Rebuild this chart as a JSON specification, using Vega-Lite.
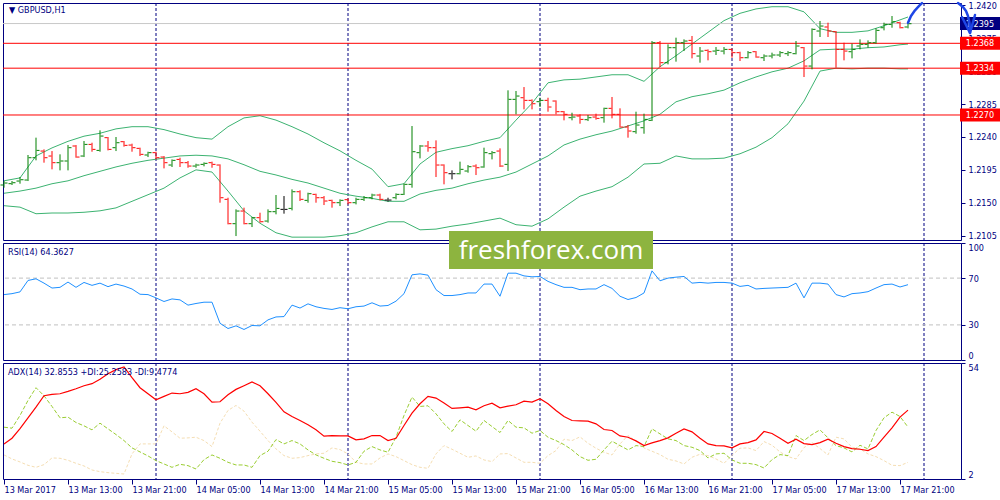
{
"$schema": "https://vega.github.io/schema/vega-lite/v6.json",
"padding": {"left": 0, "top": 0, "right": 0, "bottom": 0},
"background": "white",
"bounds": "flush",
"spacing": 3,
"config": {
  "view": {"stroke": "#000080", "strokeWidth": 1},
  "font": "DejaVu Sans Condensed, DejaVu Sans",
  "axis": {"labelFont": "DejaVu Sans Condensed, DejaVu Sans", "labelFontSize": 9, "labelColor": "#000080", "tickColor": "#000080", "tickSize": 4, "domain": false, "grid": false, "labelPadding": 3},
  "title": {"font": "DejaVu Sans Condensed, DejaVu Sans", "fontSize": 9, "fontWeight": "normal", "color": "#000080", "anchor": "start", "baseline": "middle", "frame": "group"}
},
"datasets": {
  "bars": [
    {"t":"2017-03-13T05:00Z","o":1.21743,"h":1.21797,"l":1.21706,"c":1.2177,"rsi":55.9,"adx":17.73,"pdi":25.23,"mdi":12.79},
    {"t":"2017-03-13T06:00Z","o":1.21761,"h":1.21797,"l":1.21743,"c":1.21774,"rsi":56.7,"adx":20.28,"pdi":24.78,"mdi":10.99},
    {"t":"2017-03-13T07:00Z","o":1.21797,"h":1.21852,"l":1.21761,"c":1.21815,"rsi":58.2,"adx":24.63,"pdi":30.48,"mdi":9.64},
    {"t":"2017-03-13T08:00Z","o":1.21811,"h":1.22153,"l":1.21797,"c":1.22116,"rsi":68.0,"adx":29.43,"pdi":37.22,"mdi":8.14},
    {"t":"2017-03-13T09:00Z","o":1.22116,"h":1.2239,"l":1.2208,"c":1.22216,"rsi":69.4,"adx":34.22,"pdi":42.92,"mdi":7.24},
    {"t":"2017-03-13T10:00Z","o":1.22207,"h":1.2223,"l":1.22048,"c":1.22116,"rsi":65.7,"adx":39.32,"pdi":39.32,"mdi":8.44},
    {"t":"2017-03-13T11:00Z","o":1.22139,"h":1.22207,"l":1.21957,"c":1.22048,"rsi":61.5,"adx":39.92,"pdi":34.52,"mdi":11.44},
    {"t":"2017-03-13T12:00Z","o":1.22048,"h":1.22162,"l":1.21943,"c":1.22071,"rsi":62.1,"adx":40.22,"pdi":29.43,"mdi":11.29},
    {"t":"2017-03-13T13:00Z","o":1.22071,"h":1.22289,"l":1.21943,"c":1.22253,"rsi":66.6,"adx":41.27,"pdi":29.73,"mdi":10.39},
    {"t":"2017-03-13T14:00Z","o":1.22276,"h":1.22289,"l":1.22116,"c":1.22125,"rsi":62.1,"adx":42.47,"pdi":27.33,"mdi":9.04},
    {"t":"2017-03-13T15:00Z","o":1.22139,"h":1.22344,"l":1.22125,"c":1.22298,"rsi":66.3,"adx":43.82,"pdi":25.83,"mdi":7.84},
    {"t":"2017-03-13T16:00Z","o":1.22298,"h":1.22321,"l":1.22198,"c":1.2223,"rsi":63.8,"adx":44.72,"pdi":24.03,"mdi":6.04},
    {"t":"2017-03-13T17:00Z","o":1.22216,"h":1.2249,"l":1.22198,"c":1.22412,"rsi":65.7,"adx":46.67,"pdi":27.03,"mdi":5.29},
    {"t":"2017-03-13T18:00Z","o":1.2239,"h":1.22399,"l":1.22216,"c":1.2223,"rsi":62.7,"adx":49.21,"pdi":24.48,"mdi":4.84},
    {"t":"2017-03-13T19:00Z","o":1.22253,"h":1.22399,"l":1.22207,"c":1.22321,"rsi":64.9,"adx":51.01,"pdi":21.93,"mdi":4.54},
    {"t":"2017-03-13T20:00Z","o":1.22335,"h":1.22344,"l":1.22267,"c":1.22285,"rsi":63.2,"adx":52.21,"pdi":19.23,"mdi":4.24},
    {"t":"2017-03-13T21:00Z","o":1.22289,"h":1.22308,"l":1.22198,"c":1.22253,"rsi":60.7,"adx":47.41,"pdi":15.94,"mdi":13.24},
    {"t":"2017-03-13T22:00Z","o":1.22244,"h":1.22253,"l":1.22139,"c":1.22162,"rsi":56.2,"adx":42.92,"pdi":14.14,"mdi":17.73},
    {"t":"2017-03-13T23:00Z","o":1.22153,"h":1.22198,"l":1.22125,"c":1.22185,"rsi":55.9,"adx":40.22,"pdi":12.34,"mdi":17.73},
    {"t":"2017-03-14T00:00Z","o":1.22185,"h":1.22198,"l":1.22093,"c":1.22116,"rsi":53.1,"adx":37.52,"pdi":10.24,"mdi":17.73},
    {"t":"2017-03-14T01:00Z","o":1.22125,"h":1.22139,"l":1.2197,"c":1.22048,"rsi":50.0,"adx":39.02,"pdi":8.74,"mdi":25.83},
    {"t":"2017-03-14T02:00Z","o":1.22016,"h":1.22093,"l":1.21989,"c":1.2208,"rsi":52.2,"adx":40.52,"pdi":7.24,"mdi":23.13},
    {"t":"2017-03-14T03:00Z","o":1.22093,"h":1.22116,"l":1.21989,"c":1.22048,"rsi":51.4,"adx":40.22,"pdi":8.59,"mdi":20.28},
    {"t":"2017-03-14T04:00Z","o":1.22048,"h":1.22071,"l":1.21979,"c":1.22002,"rsi":46.9,"adx":40.82,"pdi":7.99,"mdi":20.43},
    {"t":"2017-03-14T05:00Z","o":1.22002,"h":1.22034,"l":1.21979,"c":1.22016,"rsi":48.3,"adx":42.47,"pdi":6.49,"mdi":20.73},
    {"t":"2017-03-14T06:00Z","o":1.22025,"h":1.22052,"l":1.21998,"c":1.22039,"rsi":49.4,"adx":40.22,"pdi":10.69,"mdi":19.23},
    {"t":"2017-03-14T07:00Z","o":1.22048,"h":1.22062,"l":1.21979,"c":1.22025,"rsi":49.4,"adx":36.47,"pdi":12.79,"mdi":16.53},
    {"t":"2017-03-14T08:00Z","o":1.22016,"h":1.22025,"l":1.21501,"c":1.21569,"rsi":31.4,"adx":36.62,"pdi":11.29,"mdi":27.03},
    {"t":"2017-03-14T09:00Z","o":1.21547,"h":1.21569,"l":1.21205,"c":1.21214,"rsi":26.9,"adx":39.77,"pdi":9.49,"mdi":32.73},
    {"t":"2017-03-14T10:00Z","o":1.21214,"h":1.2141,"l":1.21045,"c":1.21387,"rsi":29.2,"adx":42.17,"pdi":8.29,"mdi":34.97},
    {"t":"2017-03-14T11:00Z","o":1.21387,"h":1.21433,"l":1.21205,"c":1.21214,"rsi":26.1,"adx":43.82,"pdi":8.29,"mdi":32.42},
    {"t":"2017-03-14T12:00Z","o":1.21214,"h":1.21305,"l":1.21168,"c":1.21296,"rsi":29.5,"adx":45.47,"pdi":7.24,"mdi":27.48},
    {"t":"2017-03-14T13:00Z","o":1.21296,"h":1.21364,"l":1.21228,"c":1.21241,"rsi":29.2,"adx":43.82,"pdi":12.49,"mdi":23.43},
    {"t":"2017-03-14T14:00Z","o":1.2125,"h":1.2141,"l":1.21228,"c":1.21378,"rsi":34.3,"adx":40.22,"pdi":14.44,"mdi":19.23},
    {"t":"2017-03-14T15:00Z","o":1.21378,"h":1.21606,"l":1.21342,"c":1.21423,"rsi":36.8,"adx":36.32,"pdi":19.68,"mdi":15.49},
    {"t":"2017-03-14T16:00Z","o":1.2141,"h":1.21592,"l":1.21351,"c":1.2141,"rsi":37.1,"adx":32.12,"pdi":17.73,"mdi":12.49},
    {"t":"2017-03-14T17:00Z","o":1.21423,"h":1.21683,"l":1.21396,"c":1.21651,"rsi":46.9,"adx":30.03,"pdi":19.23,"mdi":11.29},
    {"t":"2017-03-14T18:00Z","o":1.21651,"h":1.2167,"l":1.21524,"c":1.21547,"rsi":44.4,"adx":28.23,"pdi":17.73,"mdi":11.59},
    {"t":"2017-03-14T19:00Z","o":1.21533,"h":1.21638,"l":1.21501,"c":1.21624,"rsi":48.0,"adx":26.28,"pdi":15.04,"mdi":12.49},
    {"t":"2017-03-14T20:00Z","o":1.21615,"h":1.21624,"l":1.21501,"c":1.21569,"rsi":45.5,"adx":24.03,"pdi":12.79,"mdi":13.24},
    {"t":"2017-03-14T21:00Z","o":1.21569,"h":1.21592,"l":1.21469,"c":1.21524,"rsi":44.1,"adx":21.18,"pdi":11.29,"mdi":13.54},
    {"t":"2017-03-14T22:00Z","o":1.21533,"h":1.21542,"l":1.21433,"c":1.21501,"rsi":43.2,"adx":21.48,"pdi":9.94,"mdi":15.94},
    {"t":"2017-03-14T23:00Z","o":1.21501,"h":1.21547,"l":1.21455,"c":1.21533,"rsi":44.7,"adx":21.33,"pdi":9.34,"mdi":15.19},
    {"t":"2017-03-15T00:00Z","o":1.21542,"h":1.2156,"l":1.21478,"c":1.21501,"rsi":43.8,"adx":21.33,"pdi":8.29,"mdi":13.24},
    {"t":"2017-03-15T01:00Z","o":1.21501,"h":1.21569,"l":1.21478,"c":1.21547,"rsi":45.5,"adx":19.53,"pdi":9.49,"mdi":9.49},
    {"t":"2017-03-15T02:00Z","o":1.21547,"h":1.21592,"l":1.21524,"c":1.21569,"rsi":46.1,"adx":19.98,"pdi":14.44,"mdi":8.74},
    {"t":"2017-03-15T03:00Z","o":1.21569,"h":1.21624,"l":1.21547,"c":1.21606,"rsi":48.9,"adx":21.48,"pdi":16.53,"mdi":8.74},
    {"t":"2017-03-15T04:00Z","o":1.21606,"h":1.21624,"l":1.21533,"c":1.21547,"rsi":46.1,"adx":21.48,"pdi":15.04,"mdi":11.44},
    {"t":"2017-03-15T05:00Z","o":1.21537,"h":1.21569,"l":1.21515,"c":1.21537,"rsi":46.6,"adx":19.23,"pdi":13.99,"mdi":13.24},
    {"t":"2017-03-15T06:00Z","o":1.21569,"h":1.21629,"l":1.21547,"c":1.21615,"rsi":50.3,"adx":20.28,"pdi":20.73,"mdi":12.04},
    {"t":"2017-03-15T07:00Z","o":1.21615,"h":1.21761,"l":1.21606,"c":1.21752,"rsi":56.7,"adx":25.98,"pdi":30.48,"mdi":10.24},
    {"t":"2017-03-15T08:00Z","o":1.21752,"h":1.22549,"l":1.21706,"c":1.22198,"rsi":72.8,"adx":31.53,"pdi":38.72,"mdi":8.44},
    {"t":"2017-03-15T09:00Z","o":1.22185,"h":1.22289,"l":1.22107,"c":1.22276,"rsi":73.6,"adx":35.72,"pdi":34.52,"mdi":7.24},
    {"t":"2017-03-15T10:00Z","o":1.22276,"h":1.22344,"l":1.22198,"c":1.22253,"rsi":72.5,"adx":39.02,"pdi":34.82,"mdi":6.79},
    {"t":"2017-03-15T11:00Z","o":1.22253,"h":1.22353,"l":1.21852,"c":1.22016,"rsi":60.1,"adx":38.27,"pdi":31.23,"mdi":13.24},
    {"t":"2017-03-15T12:00Z","o":1.22016,"h":1.22025,"l":1.21752,"c":1.21911,"rsi":55.1,"adx":36.02,"pdi":26.73,"mdi":16.98},
    {"t":"2017-03-15T13:00Z","o":1.21897,"h":1.21943,"l":1.2182,"c":1.21897,"rsi":55.1,"adx":33.62,"pdi":23.28,"mdi":15.34},
    {"t":"2017-03-15T14:00Z","o":1.21897,"h":1.22062,"l":1.21888,"c":1.21957,"rsi":55.9,"adx":33.92,"pdi":28.53,"mdi":13.54},
    {"t":"2017-03-15T15:00Z","o":1.21934,"h":1.22016,"l":1.21911,"c":1.21993,"rsi":57.3,"adx":34.22,"pdi":25.98,"mdi":11.74},
    {"t":"2017-03-15T16:00Z","o":1.22002,"h":1.22025,"l":1.21879,"c":1.21979,"rsi":57.3,"adx":33.02,"pdi":23.43,"mdi":12.34},
    {"t":"2017-03-15T17:00Z","o":1.21989,"h":1.22253,"l":1.21979,"c":1.22185,"rsi":64.9,"adx":34.82,"pdi":28.23,"mdi":10.54},
    {"t":"2017-03-15T18:00Z","o":1.22171,"h":1.22207,"l":1.22093,"c":1.22185,"rsi":64.9,"adx":36.02,"pdi":25.53,"mdi":9.79},
    {"t":"2017-03-15T19:00Z","o":1.22207,"h":1.22244,"l":1.21989,"c":1.22002,"rsi":54.5,"adx":33.92,"pdi":22.83,"mdi":13.24},
    {"t":"2017-03-15T20:00Z","o":1.22025,"h":1.23037,"l":1.21934,"c":1.22914,"rsi":74.2,"adx":34.67,"pdi":28.23,"mdi":13.39},
    {"t":"2017-03-15T21:00Z","o":1.22914,"h":1.23028,"l":1.22709,"c":1.22959,"rsi":74.2,"adx":35.27,"pdi":25.23,"mdi":11.44},
    {"t":"2017-03-15T22:00Z","o":1.22936,"h":1.23082,"l":1.22777,"c":1.229,"rsi":71.9,"adx":36.92,"pdi":24.93,"mdi":9.49},
    {"t":"2017-03-15T23:00Z","o":1.229,"h":1.22914,"l":1.22777,"c":1.22854,"rsi":71.1,"adx":36.47,"pdi":22.53,"mdi":9.49},
    {"t":"2017-03-16T00:00Z","o":1.22882,"h":1.22936,"l":1.22809,"c":1.229,"rsi":71.4,"adx":37.97,"pdi":23.73,"mdi":9.04},
    {"t":"2017-03-16T01:00Z","o":1.229,"h":1.22936,"l":1.22745,"c":1.22809,"rsi":67.2,"adx":35.72,"pdi":20.73,"mdi":12.49},
    {"t":"2017-03-16T02:00Z","o":1.22891,"h":1.229,"l":1.22709,"c":1.22745,"rsi":64.4,"adx":32.73,"pdi":19.23,"mdi":14.74},
    {"t":"2017-03-16T03:00Z","o":1.22745,"h":1.22754,"l":1.22627,"c":1.22709,"rsi":62.1,"adx":30.03,"pdi":17.43,"mdi":19.83},
    {"t":"2017-03-16T04:00Z","o":1.22663,"h":1.22731,"l":1.22627,"c":1.22672,"rsi":62.1,"adx":28.23,"pdi":15.04,"mdi":19.23},
    {"t":"2017-03-16T05:00Z","o":1.22686,"h":1.22709,"l":1.22581,"c":1.2264,"rsi":60.1,"adx":28.08,"pdi":12.04,"mdi":20.88},
    {"t":"2017-03-16T06:00Z","o":1.22636,"h":1.227,"l":1.22617,"c":1.22663,"rsi":60.7,"adx":27.93,"pdi":10.39,"mdi":18.03},
    {"t":"2017-03-16T07:00Z","o":1.22672,"h":1.22718,"l":1.22636,"c":1.22654,"rsi":60.7,"adx":26.73,"pdi":10.84,"mdi":15.79},
    {"t":"2017-03-16T08:00Z","o":1.22663,"h":1.228,"l":1.22595,"c":1.22791,"rsi":64.4,"adx":24.18,"pdi":15.04,"mdi":13.99},
    {"t":"2017-03-16T09:00Z","o":1.22791,"h":1.22946,"l":1.22654,"c":1.22709,"rsi":61.2,"adx":23.73,"pdi":18.93,"mdi":12.79},
    {"t":"2017-03-16T10:00Z","o":1.22709,"h":1.22791,"l":1.22526,"c":1.22535,"rsi":54.5,"adx":21.33,"pdi":16.98,"mdi":17.73},
    {"t":"2017-03-16T11:00Z","o":1.22535,"h":1.22563,"l":1.2239,"c":1.22481,"rsi":51.7,"adx":20.73,"pdi":15.04,"mdi":21.48},
    {"t":"2017-03-16T12:00Z","o":1.22472,"h":1.22745,"l":1.22444,"c":1.22563,"rsi":53.4,"adx":19.08,"pdi":16.98,"mdi":18.93},
    {"t":"2017-03-16T13:00Z","o":1.22526,"h":1.22718,"l":1.22444,"c":1.2264,"rsi":57.3,"adx":16.98,"pdi":16.53,"mdi":15.94},
    {"t":"2017-03-16T14:00Z","o":1.22627,"h":1.23711,"l":1.22617,"c":1.23688,"rsi":76.2,"adx":18.18,"pdi":24.48,"mdi":14.44},
    {"t":"2017-03-16T15:00Z","o":1.23688,"h":1.23711,"l":1.23356,"c":1.23415,"rsi":67.7,"adx":19.23,"pdi":22.23,"mdi":12.94},
    {"t":"2017-03-16T16:00Z","o":1.23415,"h":1.23666,"l":1.23392,"c":1.2362,"rsi":70.0,"adx":20.43,"pdi":19.98,"mdi":10.84},
    {"t":"2017-03-16T17:00Z","o":1.2362,"h":1.23757,"l":1.23429,"c":1.23688,"rsi":70.8,"adx":22.53,"pdi":19.23,"mdi":10.09},
    {"t":"2017-03-16T18:00Z","o":1.23688,"h":1.23734,"l":1.23574,"c":1.23711,"rsi":71.4,"adx":24.48,"pdi":16.98,"mdi":8.74},
    {"t":"2017-03-16T19:00Z","o":1.2372,"h":1.2378,"l":1.23474,"c":1.23538,"rsi":65.7,"adx":23.13,"pdi":16.23,"mdi":11.74},
    {"t":"2017-03-16T20:00Z","o":1.23506,"h":1.23629,"l":1.23415,"c":1.23574,"rsi":66.3,"adx":20.28,"pdi":14.74,"mdi":13.09},
    {"t":"2017-03-16T21:00Z","o":1.23584,"h":1.23597,"l":1.23447,"c":1.23565,"rsi":65.7,"adx":17.73,"pdi":11.44,"mdi":12.49},
    {"t":"2017-03-16T22:00Z","o":1.23574,"h":1.23629,"l":1.2352,"c":1.23584,"rsi":66.3,"adx":16.98,"pdi":13.24,"mdi":10.99},
    {"t":"2017-03-16T23:00Z","o":1.23574,"h":1.23629,"l":1.23529,"c":1.23597,"rsi":66.3,"adx":16.83,"pdi":13.54,"mdi":9.04},
    {"t":"2017-03-17T00:00Z","o":1.23597,"h":1.23611,"l":1.23483,"c":1.23552,"rsi":65.7,"adx":15.94,"pdi":10.54,"mdi":12.64},
    {"t":"2017-03-17T01:00Z","o":1.23552,"h":1.23565,"l":1.23438,"c":1.23483,"rsi":62.9,"adx":17.73,"pdi":9.04,"mdi":15.79},
    {"t":"2017-03-17T02:00Z","o":1.23483,"h":1.23574,"l":1.23474,"c":1.23552,"rsi":63.8,"adx":18.33,"pdi":9.04,"mdi":15.94},
    {"t":"2017-03-17T03:00Z","o":1.23565,"h":1.23574,"l":1.23483,"c":1.23492,"rsi":60.7,"adx":19.53,"pdi":8.44,"mdi":14.74},
    {"t":"2017-03-17T04:00Z","o":1.23483,"h":1.23529,"l":1.23438,"c":1.23506,"rsi":61.2,"adx":23.28,"pdi":6.94,"mdi":18.78},
    {"t":"2017-03-17T05:00Z","o":1.23506,"h":1.23552,"l":1.23474,"c":1.2352,"rsi":61.5,"adx":22.38,"pdi":10.69,"mdi":17.13},
    {"t":"2017-03-17T06:00Z","o":1.2352,"h":1.23574,"l":1.23492,"c":1.23552,"rsi":61.8,"adx":20.28,"pdi":12.94,"mdi":14.14},
    {"t":"2017-03-17T07:00Z","o":1.23538,"h":1.23574,"l":1.23506,"c":1.23552,"rsi":62.1,"adx":18.03,"pdi":12.49,"mdi":12.04},
    {"t":"2017-03-17T08:00Z","o":1.23538,"h":1.23711,"l":1.23529,"c":1.23643,"rsi":65.7,"adx":19.83,"pdi":21.48,"mdi":10.99},
    {"t":"2017-03-17T09:00Z","o":1.2362,"h":1.23629,"l":1.23219,"c":1.23369,"rsi":53.1,"adx":17.88,"pdi":19.23,"mdi":16.09},
    {"t":"2017-03-17T10:00Z","o":1.23369,"h":1.23884,"l":1.23324,"c":1.23871,"rsi":65.7,"adx":17.43,"pdi":21.93,"mdi":18.33},
    {"t":"2017-03-17T11:00Z","o":1.23848,"h":1.23985,"l":1.23766,"c":1.23916,"rsi":65.7,"adx":18.33,"pdi":24.03,"mdi":15.64},
    {"t":"2017-03-17T12:00Z","o":1.23903,"h":1.23962,"l":1.23766,"c":1.23848,"rsi":64.9,"adx":19.83,"pdi":20.43,"mdi":12.79},
    {"t":"2017-03-17T13:00Z","o":1.23839,"h":1.23848,"l":1.23347,"c":1.23597,"rsi":55.9,"adx":18.03,"pdi":16.98,"mdi":20.73},
    {"t":"2017-03-17T14:00Z","o":1.23597,"h":1.23688,"l":1.23447,"c":1.23574,"rsi":53.9,"adx":16.53,"pdi":15.94,"mdi":19.98},
    {"t":"2017-03-17T15:00Z","o":1.23565,"h":1.23675,"l":1.23474,"c":1.23597,"rsi":56.7,"adx":15.64,"pdi":14.14,"mdi":16.23},
    {"t":"2017-03-17T16:00Z","o":1.23643,"h":1.23734,"l":1.23597,"c":1.23666,"rsi":57.3,"adx":15.34,"pdi":17.13,"mdi":15.49},
    {"t":"2017-03-17T17:00Z","o":1.23666,"h":1.2372,"l":1.2362,"c":1.23688,"rsi":58.4,"adx":14.74,"pdi":15.49,"mdi":13.24},
    {"t":"2017-03-17T18:00Z","o":1.23688,"h":1.23884,"l":1.23675,"c":1.23857,"rsi":61.5,"adx":16.53,"pdi":23.73,"mdi":12.04},
    {"t":"2017-03-17T19:00Z","o":1.23893,"h":1.23962,"l":1.23857,"c":1.23939,"rsi":64.4,"adx":20.73,"pdi":29.43,"mdi":10.24},
    {"t":"2017-03-17T20:00Z","o":1.23939,"h":1.24053,"l":1.23893,"c":1.23975,"rsi":64.9,"adx":24.93,"pdi":31.97,"mdi":8.14},
    {"t":"2017-03-17T21:00Z","o":1.23962,"h":1.23975,"l":1.23884,"c":1.23893,"rsi":62.4,"adx":29.73,"pdi":30.03,"mdi":7.99},
    {"t":"2017-03-17T22:00Z","o":1.23903,"h":1.23975,"l":1.23884,"c":1.23948,"rsi":64.36,"adx":32.86,"pdi":25.26,"mdi":9.48}
  ],
  "bands": [
    {"t":"2017-03-13T05:00Z","up":1.218,"mid":1.2163,"lo":1.2146},
    {"t":"2017-03-13T07:00Z","up":1.2184,"mid":1.2166,"lo":1.2144},
    {"t":"2017-03-13T09:00Z","up":1.2214,"mid":1.217,"lo":1.2135},
    {"t":"2017-03-13T11:00Z","up":1.2225,"mid":1.2176,"lo":1.2136},
    {"t":"2017-03-13T13:00Z","up":1.2234,"mid":1.218,"lo":1.2136},
    {"t":"2017-03-13T15:00Z","up":1.2241,"mid":1.2187,"lo":1.2137},
    {"t":"2017-03-13T17:00Z","up":1.2245,"mid":1.2193,"lo":1.2139},
    {"t":"2017-03-13T19:00Z","up":1.2251,"mid":1.2199,"lo":1.2143},
    {"t":"2017-03-13T21:00Z","up":1.2254,"mid":1.2204,"lo":1.2152},
    {"t":"2017-03-13T23:00Z","up":1.2254,"mid":1.2208,"lo":1.2161},
    {"t":"2017-03-14T01:00Z","up":1.225,"mid":1.2211,"lo":1.217},
    {"t":"2017-03-14T03:00Z","up":1.2244,"mid":1.2214,"lo":1.2184},
    {"t":"2017-03-14T05:00Z","up":1.2239,"mid":1.2215,"lo":1.2195},
    {"t":"2017-03-14T07:00Z","up":1.2237,"mid":1.2214,"lo":1.2192},
    {"t":"2017-03-14T09:00Z","up":1.2254,"mid":1.221,"lo":1.2166},
    {"t":"2017-03-14T11:00Z","up":1.2266,"mid":1.2202,"lo":1.2139},
    {"t":"2017-03-14T13:00Z","up":1.2269,"mid":1.2193,"lo":1.2122},
    {"t":"2017-03-14T15:00Z","up":1.2263,"mid":1.2188,"lo":1.2109},
    {"t":"2017-03-14T17:00Z","up":1.2254,"mid":1.2182,"lo":1.2103},
    {"t":"2017-03-14T19:00Z","up":1.2244,"mid":1.2177,"lo":1.2103},
    {"t":"2017-03-14T21:00Z","up":1.2232,"mid":1.217,"lo":1.2103},
    {"t":"2017-03-14T23:00Z","up":1.2221,"mid":1.2163,"lo":1.2105},
    {"t":"2017-03-15T01:00Z","up":1.2208,"mid":1.2159,"lo":1.2109},
    {"t":"2017-03-15T03:00Z","up":1.2196,"mid":1.2156,"lo":1.2117},
    {"t":"2017-03-15T05:00Z","up":1.2172,"mid":1.2152,"lo":1.2124},
    {"t":"2017-03-15T07:00Z","up":1.2176,"mid":1.2152,"lo":1.2124},
    {"t":"2017-03-15T09:00Z","up":1.2203,"mid":1.2162,"lo":1.2113},
    {"t":"2017-03-15T11:00Z","up":1.2219,"mid":1.2167,"lo":1.2114},
    {"t":"2017-03-15T13:00Z","up":1.2224,"mid":1.217,"lo":1.2118},
    {"t":"2017-03-15T15:00Z","up":1.2228,"mid":1.2176,"lo":1.2121},
    {"t":"2017-03-15T17:00Z","up":1.2234,"mid":1.2181,"lo":1.2125},
    {"t":"2017-03-15T19:00Z","up":1.2239,"mid":1.2185,"lo":1.2129},
    {"t":"2017-03-15T21:00Z","up":1.2263,"mid":1.2192,"lo":1.212},
    {"t":"2017-03-15T23:00Z","up":1.2286,"mid":1.2203,"lo":1.2118},
    {"t":"2017-03-16T01:00Z","up":1.2314,"mid":1.2214,"lo":1.2128},
    {"t":"2017-03-16T03:00Z","up":1.2318,"mid":1.2229,"lo":1.2144},
    {"t":"2017-03-16T05:00Z","up":1.2319,"mid":1.2237,"lo":1.2159},
    {"t":"2017-03-16T07:00Z","up":1.2322,"mid":1.2243,"lo":1.2166},
    {"t":"2017-03-16T09:00Z","up":1.2325,"mid":1.2248,"lo":1.2172},
    {"t":"2017-03-16T11:00Z","up":1.2325,"mid":1.2255,"lo":1.2185},
    {"t":"2017-03-16T13:00Z","up":1.2316,"mid":1.2262,"lo":1.2203},
    {"t":"2017-03-16T15:00Z","up":1.2336,"mid":1.2271,"lo":1.2204},
    {"t":"2017-03-16T17:00Z","up":1.2351,"mid":1.2288,"lo":1.2214},
    {"t":"2017-03-16T19:00Z","up":1.2367,"mid":1.2295,"lo":1.221},
    {"t":"2017-03-16T21:00Z","up":1.2383,"mid":1.2299,"lo":1.221},
    {"t":"2017-03-16T23:00Z","up":1.2399,"mid":1.2304,"lo":1.2211},
    {"t":"2017-03-17T01:00Z","up":1.2409,"mid":1.2314,"lo":1.2217},
    {"t":"2017-03-17T03:00Z","up":1.2415,"mid":1.2322,"lo":1.2226},
    {"t":"2017-03-17T05:00Z","up":1.2418,"mid":1.2329,"lo":1.2239},
    {"t":"2017-03-17T07:00Z","up":1.2418,"mid":1.2334,"lo":1.2258},
    {"t":"2017-03-17T09:00Z","up":1.2411,"mid":1.2344,"lo":1.2289},
    {"t":"2017-03-17T11:00Z","up":1.2388,"mid":1.2359,"lo":1.233},
    {"t":"2017-03-17T13:00Z","up":1.2383,"mid":1.236,"lo":1.2334},
    {"t":"2017-03-17T15:00Z","up":1.2383,"mid":1.236,"lo":1.2333},
    {"t":"2017-03-17T17:00Z","up":1.2385,"mid":1.2362,"lo":1.2334},
    {"t":"2017-03-17T19:00Z","up":1.2392,"mid":1.2363,"lo":1.2334},
    {"t":"2017-03-17T21:00Z","up":1.24,"mid":1.2366,"lo":1.2333},
    {"t":"2017-03-17T22:00Z","up":1.2404,"mid":1.2367,"lo":1.2333}
  ],
  "days": [
    {"t":"2017-03-14T00:00Z"},{"t":"2017-03-15T00:00Z"},{"t":"2017-03-16T00:00Z"},{"t":"2017-03-17T00:00Z"},{"t":"2017-03-18T00:00Z"}
  ],
  "levels": [
    {"p":1.2368,"kind":"level"},{"p":1.2334,"kind":"level"},{"p":1.227,"kind":"level"},{"p":1.2395,"kind":"bid"}
  ],
  "rsilevels": [{"v":30},{"v":70}],
  "arrow": [
    {"t":"2017-03-17T22:00:00Z","p":1.23961,"s":"a"},
    {"t":"2017-03-17T22:22:30Z","p":1.24053,"s":"a"},
    {"t":"2017-03-17T22:52:30Z","p":1.24131,"s":"a"},
    {"t":"2017-03-17T23:25:00Z","p":1.24194,"s":"a"},
    {"t":"2017-03-17T23:45:00Z","p":1.2423,"s":"a"},
    {"t":"2017-03-18T04:15:00Z","p":1.2423,"s":"b"},
    {"t":"2017-03-18T04:52:30Z","p":1.24176,"s":"b"},
    {"t":"2017-03-18T05:15:00Z","p":1.24121,"s":"b"},
    {"t":"2017-03-18T05:30:00Z","p":1.24053,"s":"b"},
    {"t":"2017-03-18T05:41:00Z","p":1.23957,"s":"b"},
    {"t":"2017-03-18T05:45:00Z","p":1.23821,"s":"b"},
    {"t":"2017-03-18T04:45:00Z","p":1.24039,"s":"c"},
    {"t":"2017-03-18T05:45:00Z","p":1.23821,"s":"c"},
    {"t":"2017-03-18T06:22:30Z","p":1.24067,"s":"c"}
  ]
},
"vconcat": [
  {
    "width": 958, "height": 237,
    "title": {"text": "▼ GBPUSD,H1", "offset": -13.5, "dx": 6, "anchor": "start"},
    "resolve": {"axis": {"x": "independent", "y": "independent"}},
    "layer": [
      {"data": {"name": "days"}, "mark": {"type": "rule", "color": "#000080", "strokeDash": [3, 2], "strokeWidth": 1},
       "encoding": {"x": {"field": "t", "type": "temporal", "axis": null, "scale": {"type": "utc", "domain": [{"year":2017,"month":3,"date":13,"hours":4,"minutes":52,"seconds":30,"utc":true},{"year":2017,"month":3,"date":18,"hours":4,"minutes":37,"seconds":30,"utc":true}]}}}},
      {"data": {"name": "bands"}, "mark": {"type": "line", "color": "#3cb371", "strokeWidth": 1},
       "encoding": {"x": {"field": "t", "type": "temporal", "axis": null, "scale": {"type": "utc", "domain": [{"year":2017,"month":3,"date":13,"hours":4,"minutes":52,"seconds":30,"utc":true},{"year":2017,"month":3,"date":18,"hours":4,"minutes":37,"seconds":30,"utc":true}]}},
                    "y": {"field": "up", "type": "quantitative", "axis": null, "scale": {"domain": [1.20991, 1.24231], "nice": false, "zero": false}}}},
      {"data": {"name": "bands"}, "mark": {"type": "line", "color": "#3cb371", "strokeWidth": 1},
       "encoding": {"x": {"field": "t", "type": "temporal", "axis": null, "scale": {"type": "utc", "domain": [{"year":2017,"month":3,"date":13,"hours":4,"minutes":52,"seconds":30,"utc":true},{"year":2017,"month":3,"date":18,"hours":4,"minutes":37,"seconds":30,"utc":true}]}},
                    "y": {"field": "mid", "type": "quantitative", "axis": null, "scale": {"domain": [1.20991, 1.24231], "nice": false, "zero": false}}}},
      {"data": {"name": "bands"}, "mark": {"type": "line", "color": "#3cb371", "strokeWidth": 1},
       "encoding": {"x": {"field": "t", "type": "temporal", "axis": null, "scale": {"type": "utc", "domain": [{"year":2017,"month":3,"date":13,"hours":4,"minutes":52,"seconds":30,"utc":true},{"year":2017,"month":3,"date":18,"hours":4,"minutes":37,"seconds":30,"utc":true}]}},
                    "y": {"field": "lo", "type": "quantitative", "axis": null, "scale": {"domain": [1.20991, 1.24231], "nice": false, "zero": false}}}},
      {"data": {"name": "levels"}, "mark": {"type": "rule", "strokeWidth": 1},
       "encoding": {"y": {"field": "p", "type": "quantitative", "scale": {"domain": [1.20991, 1.24231], "nice": false, "zero": false},
                          "axis": {"orient": "right", "title": null, "values": [1.2105, 1.215, 1.2195, 1.224, 1.2285, 1.233, 1.2375, 1.242], "format": ".4f", "labelPadding": 3, "tickSize": 4}},
                    "color": {"condition": {"test": "datum.kind == 'bid'", "value": "#c8c8c8"}, "value": "#ff0000"}}},
      {"data": {"name": "bars"}, "mark": {"type": "rule", "strokeWidth": 1},
       "encoding": {"x": {"field": "t", "type": "temporal", "axis": null, "scale": {"type": "utc", "domain": [{"year":2017,"month":3,"date":13,"hours":4,"minutes":52,"seconds":30,"utc":true},{"year":2017,"month":3,"date":18,"hours":4,"minutes":37,"seconds":30,"utc":true}]}},
                    "y": {"field": "l", "type": "quantitative", "axis": null, "scale": {"domain": [1.20991, 1.24231], "nice": false, "zero": false}},
                    "y2": {"field": "h"},
                    "color": {"condition": [{"test": "datum.c > datum.o", "value": "#008000"}, {"test": "datum.c < datum.o", "value": "#ff0000"}], "value": "#000000"}}},
      {"data": {"name": "bars"}, "mark": {"type": "tick", "orient": "horizontal", "size": 3, "thickness": 1, "xOffset": -2, "opacity": 1},
       "encoding": {"x": {"field": "t", "type": "temporal", "axis": null, "scale": {"type": "utc", "domain": [{"year":2017,"month":3,"date":13,"hours":4,"minutes":52,"seconds":30,"utc":true},{"year":2017,"month":3,"date":18,"hours":4,"minutes":37,"seconds":30,"utc":true}]}},
                    "y": {"field": "o", "type": "quantitative", "axis": null, "scale": {"domain": [1.20991, 1.24231], "nice": false, "zero": false}},
                    "color": {"condition": [{"test": "datum.c > datum.o", "value": "#008000"}, {"test": "datum.c < datum.o", "value": "#ff0000"}], "value": "#000000"}}},
      {"data": {"name": "bars"}, "mark": {"type": "tick", "orient": "horizontal", "size": 3, "thickness": 1, "xOffset": 2, "opacity": 1},
       "encoding": {"x": {"field": "t", "type": "temporal", "axis": null, "scale": {"type": "utc", "domain": [{"year":2017,"month":3,"date":13,"hours":4,"minutes":52,"seconds":30,"utc":true},{"year":2017,"month":3,"date":18,"hours":4,"minutes":37,"seconds":30,"utc":true}]}},
                    "y": {"field": "c", "type": "quantitative", "axis": null, "scale": {"domain": [1.20991, 1.24231], "nice": false, "zero": false}},
                    "color": {"condition": [{"test": "datum.c > datum.o", "value": "#008000"}, {"test": "datum.c < datum.o", "value": "#ff0000"}], "value": "#000000"}}},
      {"data": {"name": "levels"}, "mark": {"type": "tick", "orient": "horizontal", "size": 40, "thickness": 13, "opacity": 1},
       "encoding": {"x": {"datum": {"year":2017,"month":3,"date":18,"hours":7,"utc":true}, "type": "temporal", "axis": null, "scale": {"type": "utc", "domain": [{"year":2017,"month":3,"date":13,"hours":4,"minutes":52,"seconds":30,"utc":true},{"year":2017,"month":3,"date":18,"hours":4,"minutes":37,"seconds":30,"utc":true}]}},
                    "y": {"field": "p", "type": "quantitative", "axis": null, "scale": {"domain": [1.20991, 1.24231], "nice": false, "zero": false}},
                    "color": {"condition": {"test": "datum.kind == 'bid'", "value": "#000080"}, "value": "#ff0000"}}},
      {"data": {"name": "levels"}, "mark": {"type": "text", "color": "white", "fontSize": 9, "font": "DejaVu Sans Condensed, DejaVu Sans", "align": "center", "baseline": "middle"},
       "encoding": {"x": {"datum": {"year":2017,"month":3,"date":18,"hours":7,"utc":true}, "type": "temporal", "axis": null, "scale": {"type": "utc", "domain": [{"year":2017,"month":3,"date":13,"hours":4,"minutes":52,"seconds":30,"utc":true},{"year":2017,"month":3,"date":18,"hours":4,"minutes":37,"seconds":30,"utc":true}]}},
                    "y": {"field": "p", "type": "quantitative", "axis": null, "scale": {"domain": [1.20991, 1.24231], "nice": false, "zero": false}},
                    "text": {"field": "p", "type": "quantitative", "format": ".4f"}}},
      {"data": {"name": "arrow"}, "mark": {"type": "line", "color": "#1e46e6", "strokeWidth": 2.5, "strokeCap": "round", "strokeJoin": "round"},
       "encoding": {"x": {"field": "t", "type": "temporal", "axis": null, "scale": {"type": "utc", "domain": [{"year":2017,"month":3,"date":13,"hours":4,"minutes":52,"seconds":30,"utc":true},{"year":2017,"month":3,"date":18,"hours":4,"minutes":37,"seconds":30,"utc":true}]}},
                    "y": {"field": "p", "type": "quantitative", "axis": null, "scale": {"domain": [1.20991, 1.24231], "nice": false, "zero": false}},
                    "detail": {"field": "s", "type": "nominal"}}}
    ]
  },
  {
    "width": 958, "height": 117,
    "title": {"text": "RSI(14) 64.3627", "offset": -26.5, "dx": 5, "anchor": "start"},
    "resolve": {"axis": {"x": "independent", "y": "independent"}},
    "layer": [
      {"data": {"name": "days"}, "mark": {"type": "rule", "color": "#000080", "strokeDash": [3, 2], "strokeWidth": 1},
       "encoding": {"x": {"field": "t", "type": "temporal", "axis": null, "scale": {"type": "utc", "domain": [{"year":2017,"month":3,"date":13,"hours":4,"minutes":52,"seconds":30,"utc":true},{"year":2017,"month":3,"date":18,"hours":4,"minutes":37,"seconds":30,"utc":true}]}}}},
      {"data": {"name": "rsilevels"}, "mark": {"type": "rule", "color": "#c0c0c0", "strokeDash": [4, 3], "strokeWidth": 1},
       "encoding": {"y": {"field": "v", "type": "quantitative", "scale": {"domain": [0, 100], "nice": false, "zero": false},
                          "axis": {"orient": "right", "title": null, "values": [0, 30, 70, 100], "labelFlush": true, "labelPadding": 3, "tickSize": 4}}}},
      {"data": {"name": "bars"}, "mark": {"type": "line", "color": "#1e90ff", "strokeWidth": 1},
       "encoding": {"x": {"field": "t", "type": "temporal", "axis": null, "scale": {"type": "utc", "domain": [{"year":2017,"month":3,"date":13,"hours":4,"minutes":52,"seconds":30,"utc":true},{"year":2017,"month":3,"date":18,"hours":4,"minutes":37,"seconds":30,"utc":true}]}},
                    "y": {"field": "rsi", "type": "quantitative", "axis": null, "scale": {"domain": [0, 100], "nice": false, "zero": false}}}},
      {"data": {"values": [{}]}, "mark": {"type": "rect", "color": "#8db43f", "opacity": 1},
       "encoding": {"x": {"datum": {"year":2017,"month":3,"date":15,"hours":12,"minutes":37,"seconds":30,"utc":true}, "type": "temporal", "axis": null, "scale": {"type": "utc", "domain": [{"year":2017,"month":3,"date":13,"hours":4,"minutes":52,"seconds":30,"utc":true},{"year":2017,"month":3,"date":18,"hours":4,"minutes":37,"seconds":30,"utc":true}]}},
                    "x2": {"datum": {"year":2017,"month":3,"date":16,"hours":14,"minutes":7,"seconds":30,"utc":true}},
                    "y": {"datum": 110.26, "type": "quantitative", "axis": null, "scale": {"domain": [0, 100], "nice": false, "zero": false}},
                    "y2": {"datum": 77.78}}},
      {"data": {"values": [{}]}, "mark": {"type": "text", "text": "freshforex.com", "color": "white", "font": "Open Sans", "fontSize": 26, "align": "center", "baseline": "middle"},
       "encoding": {"x": {"datum": {"year":2017,"month":3,"date":16,"hours":1,"minutes":22,"seconds":30,"utc":true}, "type": "temporal", "axis": null, "scale": {"type": "utc", "domain": [{"year":2017,"month":3,"date":13,"hours":4,"minutes":52,"seconds":30,"utc":true},{"year":2017,"month":3,"date":18,"hours":4,"minutes":37,"seconds":30,"utc":true}]}},
                    "y": {"datum": 93.5, "type": "quantitative", "axis": null, "scale": {"domain": [0, 100], "nice": false, "zero": false}}}}
    ]
  },
  {
    "width": 958, "height": 116,
    "title": {"text": "ADX(14) 32.8553 +DI:25.2583 -DI:9.4774", "offset": -14, "dx": 5, "anchor": "start"},
    "resolve": {"axis": {"x": "independent", "y": "independent"}},
    "layer": [
      {"data": {"name": "days"}, "mark": {"type": "rule", "color": "#000080", "strokeDash": [3, 2], "strokeWidth": 1},
       "encoding": {"x": {"field": "t", "type": "temporal", "scale": {"type": "utc", "domain": [{"year":2017,"month":3,"date":13,"hours":4,"minutes":52,"seconds":30,"utc":true},{"year":2017,"month":3,"date":18,"hours":4,"minutes":37,"seconds":30,"utc":true}]},
                          "axis": {"orient": "bottom", "title": null, "labelAlign": "left", "labelPadding": 1, "tickSize": 5, "labelOverlap": false, "labelFlush": false, "labelBound": false,
                                   "values": [{"year":2017,"month":3,"date":13,"hours":5,"utc":true},{"year":2017,"month":3,"date":13,"hours":13,"utc":true},{"year":2017,"month":3,"date":13,"hours":21,"utc":true},
                                              {"year":2017,"month":3,"date":14,"hours":5,"utc":true},{"year":2017,"month":3,"date":14,"hours":13,"utc":true},{"year":2017,"month":3,"date":14,"hours":21,"utc":true},
                                              {"year":2017,"month":3,"date":15,"hours":5,"utc":true},{"year":2017,"month":3,"date":15,"hours":13,"utc":true},{"year":2017,"month":3,"date":15,"hours":21,"utc":true},
                                              {"year":2017,"month":3,"date":16,"hours":5,"utc":true},{"year":2017,"month":3,"date":16,"hours":13,"utc":true},{"year":2017,"month":3,"date":16,"hours":21,"utc":true},
                                              {"year":2017,"month":3,"date":17,"hours":5,"utc":true},{"year":2017,"month":3,"date":17,"hours":13,"utc":true},{"year":2017,"month":3,"date":17,"hours":21,"utc":true}],
                                   "labelExpr": "datum.index == 0 ? utcFormat(datum.value, '%d %b %Y') : utcFormat(datum.value, '%d %b %H:%M')"}}}},
      {"data": {"name": "bars"}, "mark": {"type": "line", "color": "#f5deb3", "strokeWidth": 1, "strokeDash": [3, 2]},
       "encoding": {"x": {"field": "t", "type": "temporal", "axis": null, "scale": {"type": "utc", "domain": [{"year":2017,"month":3,"date":13,"hours":4,"minutes":52,"seconds":30,"utc":true},{"year":2017,"month":3,"date":18,"hours":4,"minutes":37,"seconds":30,"utc":true}]}},
                    "y": {"field": "mdi", "type": "quantitative", "scale": {"domain": [2, 54], "nice": false, "zero": false},
                          "axis": {"orient": "right", "title": null, "values": [2, 54], "labelFlush": true, "labelPadding": 3, "tickSize": 4}}}},
      {"data": {"name": "bars"}, "mark": {"type": "line", "color": "#9acd32", "strokeWidth": 1, "strokeDash": [4, 2]},
       "encoding": {"x": {"field": "t", "type": "temporal", "axis": null, "scale": {"type": "utc", "domain": [{"year":2017,"month":3,"date":13,"hours":4,"minutes":52,"seconds":30,"utc":true},{"year":2017,"month":3,"date":18,"hours":4,"minutes":37,"seconds":30,"utc":true}]}},
                    "y": {"field": "pdi", "type": "quantitative", "axis": null, "scale": {"domain": [2, 54], "nice": false, "zero": false}}}},
      {"data": {"name": "bars"}, "mark": {"type": "line", "color": "#ff0000", "strokeWidth": 1.2},
       "encoding": {"x": {"field": "t", "type": "temporal", "axis": null, "scale": {"type": "utc", "domain": [{"year":2017,"month":3,"date":13,"hours":4,"minutes":52,"seconds":30,"utc":true},{"year":2017,"month":3,"date":18,"hours":4,"minutes":37,"seconds":30,"utc":true}]}},
                    "y": {"field": "adx", "type": "quantitative", "axis": null, "scale": {"domain": [2, 54], "nice": false, "zero": false}}}}
    ]
  }
]
}
